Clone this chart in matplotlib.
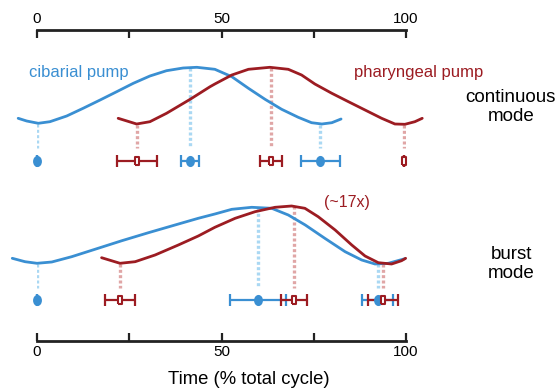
import numpy as np
import matplotlib
matplotlib.use('Agg')
import matplotlib.pyplot as plt
from matplotlib.path import Path
from matplotlib.transforms import Affine2D

plt.rcParams['font.family'] = ['Liberation Sans', 'DejaVu Sans']

# colours
BLUE = '#3a8fd2'
RED = '#9c1c22'
LBLUE = '#aad8f3'
LRED = '#e0a6a6'

# --- curves (x = % of cycle, y = vertical position, screen rows) ---
# continuous mode
cont_cib_x = [-5.1, -2.8, 0.35, 3.5, 8.05, 12.5, 17.1, 21.6, 26.1, 30.6, 35.1, 39.6, 43.3, 48.2,
              52.8, 57.3, 61.8, 66.3, 70.8, 74.4, 77.2, 79.9, 82.4]
cont_cib_y = [118.3, 121, 123.3, 121.7, 116, 108.3, 100, 91.7, 83.3, 76, 70.7, 68, 67.3, 69.3,
              76.7, 88.3, 99.3, 109.3, 117.3, 122.7, 124, 122.7, 119]
cont_pha_x = [22.0, 27.0, 30.6, 35.1, 41.5, 46.9, 48.2, 52.8, 57.3, 63.1, 68.1, 71.7, 75.3, 79.9,
              84.4, 88.9, 93.4, 97.0, 99.7, 102.4, 104.4]
cont_pha_y = [118.3, 124, 121.7, 113.3, 99.3, 86.7, 84, 75, 69.3, 67.3, 69.3, 75, 84, 93.3,
              101.7, 110, 118.3, 124, 124.3, 121.7, 118.3]

# burst mode
burst_cib_x = [-6.7, -3.25, 0, 4.0, 9.4, 15.7, 23.0, 30.2, 37.4, 43.7, 48.2, 52.8, 58.2, 63.6,
               68.1, 72.7, 78.0, 83.5, 88.0, 91.6, 95.2, 99.7]
burst_cib_y = [258.3, 261.7, 263.3, 262, 256.7, 249.3, 240.7, 232.7, 225, 218.3, 214, 209.3, 207.3, 208.3,
               215, 225, 238.3, 251.7, 260, 264, 263.3, 258.7]
burst_pha_x = [17.5, 22.5, 26.6, 32.0, 38.3, 43.7, 48.2, 53.7, 59.1, 64.5, 69.0, 72.6, 76.2, 80.8,
               85.3, 88.9, 92.5, 96.1, 98.8, 99.9]
burst_pha_y = [257.7, 263.3, 261.7, 255, 245, 236, 227.3, 218.3, 211.7, 207.3, 206, 208.3, 216.7, 230,
               245, 256, 262.7, 264, 260.7, 258.3]

# --- phase markers (mean +- spread) ---
cont_cib_mx = [0, 41.5, 76.8]
cont_cib_err = [0, 2.5, 5.3]
cont_pha_mx = [27, 63.4, 99.5]
cont_pha_err = [5.4, 3.0, 0]
burst_cib_mx = [0, 60, 92.3]
burst_cib_err = [0, 7.6, 4.2]
burst_pha_mx = [22.5, 69.7, 93.8]
burst_pha_err = [4.0, 3.5, 4.0]

# where dotted guide lines leave the curves
cont_cib_top = [124, 68, 125]
cont_pha_top = [125, 68, 125]
burst_cib_top = [264, 208, 264]
burst_pha_top = [264, 206, 264]

cont_row, burst_row = 161, 300
cont_guide_end, burst_guide_end = 148, 288

fig = plt.figure(figsize=(5.56, 3.91), dpi=100)
ax = fig.add_axes([37 / 556, 50 / 391, 369 / 556, 311 / 391])
ax.set_xlim(0, 100)
ax.set_ylim(341, 30)
ax.patch.set_visible(False)

for s in ['left', 'right']:
    ax.spines[s].set_visible(False)
for s in ['top', 'bottom']:
    ax.spines[s].set_linewidth(2.0)
    ax.spines[s].set_color('#222222')

ax.set_xticks([0, 50, 100])
ax.set_xticks([25, 75], minor=True)
ax.set_yticks([])
ax.tick_params(which='both', direction='in', length=6, width=1.6, color='#222222',
               top=True, bottom=True, labeltop=True, labelbottom=True,
               labelsize=11, pad=3)

# dotted guides
def guides(xs, tops, end, color):
    for x, t in zip(xs, tops):
        ax.plot([x, x], [t, end], color=color, lw=2.4, dashes=(0.9, 0.7),
                solid_capstyle='butt', zorder=1)

guides(cont_cib_mx, cont_cib_top, cont_guide_end, LBLUE)
guides(cont_pha_mx, cont_pha_top, cont_guide_end, LRED)
guides(burst_cib_mx, burst_cib_top, burst_guide_end, LBLUE)
guides(burst_pha_mx, burst_pha_top, burst_guide_end, LRED)

# curves
kw = dict(lw=2.0, solid_capstyle='round', solid_joinstyle='round', clip_on=False, zorder=3)
ax.plot(cont_cib_x, cont_cib_y, color=BLUE, **kw)
ax.plot(cont_pha_x, cont_pha_y, color=RED, **kw)
ax.plot(burst_cib_x, burst_cib_y, color=BLUE, **kw)
ax.plot(burst_pha_x, burst_pha_y, color=RED, **kw)

# markers
ellipse = Path.unit_circle().transformed(Affine2D().scale(0.75, 1.0))
rect = [(-0.65, -1), (0.65, -1), (0.65, 1), (-0.65, 1), (-0.65, -1)]

def phase_marks(xs, errs, row, color, marker, face, ms):
    ax.errorbar(xs, [row] * len(xs), xerr=errs, fmt='none', ecolor=color,
                elinewidth=1.6, capsize=4, capthick=1.6, zorder=4, clip_on=False)
    ax.plot(xs, [row] * len(xs), ls='none', marker=marker, ms=ms, mfc=face,
            mec=color, mew=1.5, zorder=5, clip_on=False)

phase_marks(cont_cib_mx, cont_cib_err, cont_row, BLUE, ellipse, BLUE, 6.5)
phase_marks(cont_pha_mx, cont_pha_err, cont_row, RED, rect, 'white', 5.5)
phase_marks(burst_cib_mx, burst_cib_err, burst_row, BLUE, ellipse, BLUE, 6.5)
phase_marks(burst_pha_mx, burst_pha_err, burst_row, RED, rect, 'white', 5.5)

# labels
ax.text(11.2, 73, 'cibarial pump', color=BLUE, fontsize=12, ha='center', va='center')
ax.text(103.5, 73, 'pharyngeal pump', color=RED, fontsize=12, ha='center', va='center')
ax.text(84, 202, '(~17x)', color=RED, fontsize=11.5, ha='center', va='center')
ax.text(128.4, 107, 'continuous\nmode', color='black', fontsize=13.5, ha='center',
        va='center', linespacing=1.1)
ax.text(128.6, 264, 'burst\nmode', color='black', fontsize=13.5, ha='center',
        va='center', linespacing=1.1)
ax.text(57.5, 380, 'Time (% total cycle)', color='black', fontsize=13.3,
        ha='center', va='center')

fig.savefig('out.png', dpi=100)
